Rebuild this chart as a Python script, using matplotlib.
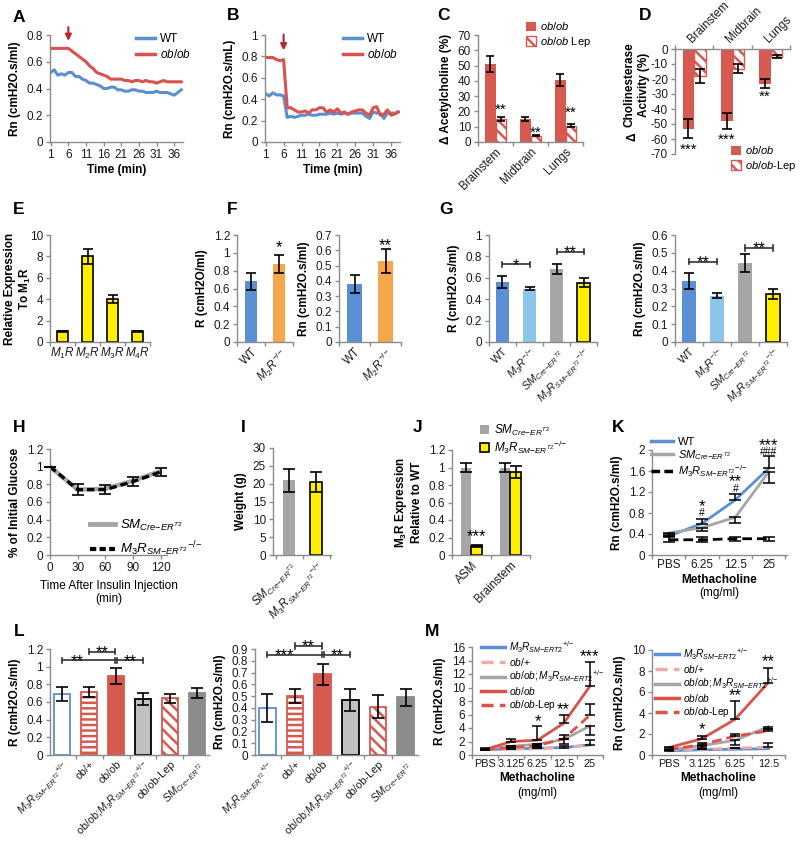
import numpy as np
import matplotlib
matplotlib.use('Agg')
import matplotlib.pyplot as plt
from matplotlib.patches import Patch
from matplotlib.lines import Line2D
from matplotlib.ticker import FuncFormatter

plt.rcParams['font.family'] = ['Liberation Sans', 'DejaVu Sans']
plt.rcParams['font.size'] = 8
plt.rcParams['mathtext.fontset'] = 'custom'
plt.rcParams['mathtext.rm'] = 'Liberation Sans'
plt.rcParams['mathtext.it'] = 'Liberation Sans:italic'
plt.rcParams['mathtext.bf'] = 'Liberation Sans:bold'
plt.rcParams['hatch.linewidth'] = 1.8
plt.rcParams['axes.unicode_minus'] = False

# ---------------- colours ----------------
BLUE = '#5b8fd3'
RED = '#d9534c'
BARRED = '#d65a50'
GRAY = '#a6a6a6'
DGRAY = '#8c8c8c'
LGRAY = '#c0c0c0'
YEL = '#ffee00'
ORANGE = '#f6a64b'
LBLUE = '#8dc5e9'
PINK = '#f3aaa3'
AXC = '#8c8c8c'
ARROW = '#b5272b'

# ---------------- data ----------------
time_min = list(range(1, 39))
A_wt = [0.52, 0.54, 0.50, 0.51, 0.50, 0.52, 0.52, 0.49, 0.49, 0.47, 0.46, 0.44, 0.44,
        0.43, 0.42, 0.40, 0.40, 0.41, 0.41, 0.39, 0.39, 0.38, 0.38, 0.39, 0.39, 0.38,
        0.38, 0.37, 0.37, 0.37, 0.38, 0.37, 0.37, 0.37, 0.36, 0.35, 0.37, 0.39]
A_ob = [0.70, 0.70, 0.70, 0.70, 0.70, 0.70, 0.68, 0.66, 0.64, 0.62, 0.60, 0.57, 0.55,
        0.52, 0.51, 0.50, 0.49, 0.47, 0.47, 0.47, 0.47, 0.46, 0.46, 0.45, 0.46, 0.46,
        0.45, 0.46, 0.45, 0.45, 0.44, 0.45, 0.46, 0.45, 0.45, 0.45, 0.45, 0.45]
B_wt = [0.45, 0.43, 0.46, 0.44, 0.44, 0.43, 0.23, 0.24, 0.23, 0.24, 0.25, 0.25, 0.26,
        0.25, 0.25, 0.26, 0.26, 0.26, 0.27, 0.26, 0.27, 0.26, 0.27, 0.26, 0.27, 0.27,
        0.27, 0.27, 0.24, 0.22, 0.28, 0.27, 0.27, 0.22, 0.27, 0.27, 0.27, 0.28]
B_ob = [0.79, 0.79, 0.79, 0.77, 0.76, 0.77, 0.32, 0.32, 0.30, 0.28, 0.28, 0.29, 0.27,
        0.30, 0.30, 0.32, 0.32, 0.28, 0.30, 0.28, 0.31, 0.27, 0.28, 0.26, 0.28, 0.29,
        0.30, 0.30, 0.27, 0.25, 0.32, 0.33, 0.25, 0.26, 0.30, 0.25, 0.26, 0.28]

regions = ['Brainstem', 'Midbrain', 'Lungs']
C_ob = [51, 15, 40.5]
C_ob_err = [5, 1.5, 4]
C_lep = [15, 4, 10.5]
C_lep_err = [1.5, 0.4, 1]
D_ob = [-53, -48, -23]
D_ob_err = [6.5, 5.5, 3]
D_lep = [-18, -13, -5]
D_lep_err = [4.5, 3, 1]

E_labels = [r'$M_1R$', r'$M_2R$', r'$M_3R$', r'$M_4R$']
E_vals = [1, 8, 4, 1]
E_err = [0.05, 0.7, 0.4, 0.05]

F_labels = ['WT', r'$M_2R^{-/{-}}$']
F_R = [0.68, 0.875]
F_R_err = [0.095, 0.10]
F_Rn = [0.38, 0.53]
F_Rn_err = [0.06, 0.08]

lab_sm = r'$SM_{Cre{-}ER^{T2}}$'
lab_m3sm = r'$M_3R_{SM{-}ER^{T2}}{}^{-/{-}}$'
G_labels = ['WT', r'$M_3R^{-/{-}}$', lab_sm, lab_m3sm]
G_R = [0.56, 0.50, 0.68, 0.555]
G_R_err = [0.055, 0.015, 0.045, 0.045]
G_Rn = [0.34, 0.26, 0.445, 0.27]
G_Rn_err = [0.045, 0.015, 0.05, 0.03]

H_t = [0, 30, 60, 90, 120]
H_sm = [1.0, 0.74, 0.75, 0.84, 0.95]
H_m3 = [1.0, 0.74, 0.74, 0.83, 0.94]
H_err = [0.0, 0.06, 0.05, 0.05, 0.04]

I_labels = [lab_sm, lab_m3sm]
I_vals = [21, 20.5]
I_err = [3.2, 2.9]

J_tissue = ['ASM', 'Brainstem']
J_sm = [1.0, 1.0]
J_sm_err = [0.05, 0.05]
J_m3 = [0.10, 0.95]
J_m3_err = [0.01, 0.07]

K_dose = ['PBS', '6.25', '12.5', '25']
K_wt = [0.36, 0.60, 1.05, 1.65]
K_wt_err = [0.04, 0.08, 0.12, 0.23]
K_sm = [0.42, 0.52, 0.72, 1.58]
K_sm_err = [0.05, 0.07, 0.11, 0.21]
K_m3 = [0.29, 0.29, 0.31, 0.31]
K_m3_err = [0.05, 0.05, 0.04, 0.04]

L_labels = [r'$M_3R_{SM{-}ER^{T2}}{}^{+/{-}}$', 'ob/+', 'ob/ob',
            r'ob/ob;$M_3R_{SM{-}ER^{T2}}{}^{+/{-}}$', 'ob/ob-Lep', r'$SM_{Cre{-}ER^{T2}}$']
L_R = [0.69, 0.715, 0.895, 0.635, 0.64, 0.70]
L_R_err = [0.08, 0.055, 0.09, 0.065, 0.05, 0.055]
L_Rn = [0.40, 0.50, 0.685, 0.465, 0.41, 0.49]
L_Rn_err = [0.12, 0.06, 0.09, 0.095, 0.10, 0.07]

M_labels = [r'$M_3R_{SM{-}ERT2}{}^{+/{-}}$', r'$ob/{+}$', r'$ob/ob;M_3R_{SM{-}ERT2}{}^{+/{-}}$',
            r'$ob/ob$', r'$ob/ob$-Lep']
M1_dose = ['PBS', '3.125', '6.25', '12.5', '25']
M1_m3 = [0.8, 0.9, 1.0, 1.1, 1.5]
M1_obp = [0.8, 0.9, 0.9, 1.2, 1.4]
M1_obm3 = [0.9, 1.3, 1.6, 2.3, 4.3]
M1_ob = [0.8, 2.0, 2.2, 4.7, 10.2]
M1_lep = [0.8, 1.1, 1.4, 2.4, 5.9]
M1_ob_up = [0.2, 0.4, 2.1, 1.3, 3.6]
M1_lep_up = [0.0, 0.0, 0.2, 0.5, 1.7]
M1_obm3_dn = [0.2, 0.0, 0.3, 0.7, 1.3]
M1_m3_up = [0.0, 0.0, 0.0, 0.3, 0.7]

M2_dose = ['PBS', '3.125', '6.25', '12.5']
M2_m3 = [0.4, 0.5, 0.55, 0.6]
M2_obp = [0.5, 0.55, 0.65, 0.75]
M2_obm3 = [0.5, 0.9, 1.4, 2.7]
M2_ob = [0.7, 1.55, 3.4, 6.9]
M2_lep = [0.5, 1.0, 1.8, 2.3]
M2_ob_up = [0.1, 0.3, 1.7, 1.4]
M2_obm3_dn = [0.1, 0.2, 0.4, 0.2]
M2_lep_up = [0.0, 0.1, 0.2, 0.2]
M2_obp_up = [0.0, 0.0, 0.0, 0.35]

# ---------------- helpers ----------------
W, H = 800, 842
fig = plt.figure(figsize=(W / 100, H / 100), dpi=100)
fig.patch.set_facecolor('white')


def axpx(l, t, r, b):
    ax = fig.add_axes([l / W, 1 - b / H, (r - l) / W, (b - t) / H])
    for s in ('top', 'right'):
        ax.spines[s].set_visible(False)
    for s in ('left', 'bottom', 'top'):
        ax.spines[s].set_color(AXC)
        ax.spines[s].set_linewidth(1.0)
    ax.tick_params(which='both', direction='out', color=AXC, width=1, length=3,
                   labelsize=8.5, pad=2, labelcolor='#1a1a1a')
    ax.yaxis.set_major_formatter(FuncFormatter(lambda v, p: f'{v:g}'))
    ax.patch.set_alpha(0)
    return ax


def cat_ticks(ax, labels, rot=45, fs=8, ha='right'):
    n = len(labels)
    ax.set_xticks(np.arange(n))
    ax.set_xticklabels(labels, rotation=rot, ha=ha if rot else 'center',
                       rotation_mode='anchor', fontsize=fs)
    ax.set_xticks(np.arange(n + 1) - 0.5, minor=True)
    ax.tick_params(axis='x', which='major', length=0, pad=3)
    ax.tick_params(axis='x', which='minor', length=3)


def letter(s, x, y):
    fig.text(x / W, 1 - y / H, s, fontsize=12.5, fontweight='bold', ha='center', va='center')


def legend_px(ax, handles, labels, x, y, fs=8, **kw):
    opts = dict(loc='upper left', bbox_to_anchor=(x / W, 1 - y / H),
                bbox_transform=fig.transFigure, frameon=False, fontsize=fs,
                borderaxespad=0, borderpad=0, handletextpad=0.4,
                labelspacing=0.25, handlelength=1.6)
    opts.update(kw)
    return ax.legend(handles, labels, **opts)


def ebar(ax, x, y, err, cap=3.5):
    ax.errorbar(x, y, yerr=err, fmt='none', ecolor='black', elinewidth=1.2,
                capsize=cap, capthick=1.2, zorder=5, clip_on=False)


def star(ax, x, y, s, fs=11):
    # y is the visual centre of the glyphs
    off = -0.57 * fs if '*' in s else -0.36 * fs
    ax.annotate(s, (x, y), xytext=(0, off), textcoords='offset points', ha='center',
                va='baseline', fontsize=fs, annotation_clip=False)


def bracket(ax, x1, x2, y, txt, h, fs=11, tx=None):
    kw = dict(color='#333333', lw=1.2, clip_on=False)
    ax.plot([x1, x2], [y, y], **kw)
    for xx in (x1, x2):
        ax.plot([xx, xx], [y - h, y + h], **kw)
    if tx is None:
        tx = (x1 + x2) / 2
    ax.annotate(txt, (tx, y), xytext=(0, 1.2 - 0.43 * fs), textcoords='offset points',
                ha='center', va='baseline', fontsize=fs, annotation_clip=False)


def methacholine(ax):
    ax.set_xlabel('Methacholine', fontweight='bold', fontsize=8.5, labelpad=2)
    ax.annotate('(mg/ml)', xy=(0.5, 0), xycoords='axes fraction', xytext=(0, -23),
                textcoords='offset points', ha='center', va='top', fontsize=8.5)


LABW = dict(fontweight='bold', fontsize=8.5)

# ---------------- A ----------------
letter('A', 19, 17)
axA = axpx(50, 35, 183, 142)
axA.plot(time_min, A_wt, color=BLUE, lw=2.2)
axA.plot(time_min, A_ob, color=RED, lw=2.2)
axA.set_xlim(0.8, 38.5)
axA.set_ylim(0, 0.8)
axA.set_xticks(range(1, 37, 5))
axA.set_yticks(np.arange(0, 0.81, 0.2))
axA.set_xlabel('Time (min)', labelpad=2, **LABW)
axA.set_ylabel('Rn (cmH2O.s/ml)', **LABW)
axA.annotate('', xy=(6, 0.735), xytext=(6, 0.88),
             arrowprops=dict(arrowstyle='-|>', color=ARROW, lw=1.5, mutation_scale=9),
             annotation_clip=False)
legend_px(axA, [Line2D([], [], color=BLUE, lw=2.5), Line2D([], [], color=RED, lw=2.5)],
          ['WT', r'$ob/ob$'], 136, 33, fs=8.5)

# ---------------- B ----------------
letter('B', 233, 15)
axB = axpx(265, 35, 400, 142)
axB.plot(time_min, B_wt, color=BLUE, lw=2.2)
axB.plot(time_min, B_ob, color=RED, lw=2.2)
axB.set_xlim(0.8, 38.5)
axB.set_ylim(0, 1)
axB.set_xticks(range(1, 37, 5))
axB.set_yticks(np.arange(0, 1.01, 0.2))
axB.set_xlabel('Time (min)', labelpad=2, **LABW)
axB.set_ylabel('Rn (cmH2O.s/mL)', **LABW)
axB.annotate('', xy=(6, 0.83), xytext=(6, 1.03),
             arrowprops=dict(arrowstyle='-|>', color=ARROW, lw=1.5, mutation_scale=9),
             annotation_clip=False)
legend_px(axB, [Line2D([], [], color=BLUE, lw=2.5), Line2D([], [], color=RED, lw=2.5)],
          ['WT', r'$ob/ob$'], 343, 33, fs=8.5)

# ---------------- C ----------------
letter('C', 443, 15)
axC = axpx(478, 35, 583, 142)
xc = np.arange(len(regions))
w = 0.29
axC.bar(xc - w / 2, C_ob, w, color=BARRED)
axC.bar(xc + w / 2, C_lep, w, facecolor='white', edgecolor=BARRED, hatch='\\\\\\', linewidth=1)
ebar(axC, xc - w / 2, C_ob, C_ob_err, cap=3)
ebar(axC, xc + w / 2, C_lep, C_lep_err, cap=3)
axC.set_ylim(0, 70)
axC.set_xlim(-0.5, 2.5)
axC.set_yticks(range(0, 71, 10))
cat_ticks(axC, regions, rot=45, fs=8.5)
axC.set_ylabel('Δ Acetylcholine (%)', **LABW)
star(axC, 0 + w / 2, 24, '**')
star(axC, 1 + w / 2, 9, '**')
star(axC, 2 + w / 2, 22.5, '**')
legend_px(axC, [Patch(facecolor=BARRED), Patch(facecolor='white', edgecolor=BARRED, hatch='\\\\\\')],
          [r'$ob/ob$', r'$ob/ob$ Lep'], 526, 20, fs=8, handlelength=0.9, handleheight=0.9)

# ---------------- D ----------------
letter('D', 645, 15)
axD = axpx(675, 49, 790, 154)
axD.spines['bottom'].set_visible(False)
axD.spines['top'].set_visible(True)
axD.xaxis.tick_top()
xd = np.arange(len(regions))
wd = 0.3
axD.bar(xd - wd / 2, D_ob, wd, color=BARRED)
axD.bar(xd + wd / 2, D_lep, wd, facecolor='white', edgecolor=BARRED, hatch='\\\\\\', linewidth=1)
ebar(axD, xd - wd / 2, D_ob, D_ob_err, cap=3.5)
ebar(axD, xd + wd / 2, D_lep, D_lep_err, cap=3.5)
axD.set_ylim(-70, 0)
axD.set_xlim(-0.5, 2.5)
axD.set_yticks(range(-70, 1, 10))
cat_ticks(axD, regions, rot=45, fs=8.5, ha='left')
axD.set_ylabel('Cholinesterase\nActivity (%)', **LABW)
axD.yaxis.set_label_coords(-0.22, 0.66)
fig.text(633 / W, 1 - 137 / H, 'Δ', rotation=90, fontsize=8.5, fontweight='bold', ha='center', va='center')
star(axD, 0 - wd / 2, -64, '***')
star(axD, 1 - wd / 2, -57.5, '***')
star(axD, 2 - wd / 2, -29, '**')
legend_px(axD, [Patch(facecolor=BARRED), Patch(facecolor='white', edgecolor=BARRED, hatch='\\\\\\')],
          [r'$ob/ob$', r'$ob/ob$-Lep'], 731, 144, fs=8, handlelength=0.9, handleheight=0.9)

# ---------------- E ----------------
letter('E', 19, 209)
axE = axpx(50, 235, 150, 342)
xe = np.arange(len(E_vals))
axE.bar(xe, E_vals, 0.42, color=YEL, edgecolor='black', linewidth=1.2)
ebar(axE, xe, E_vals, E_err, cap=3.5)
axE.set_ylim(0, 10)
axE.set_xlim(-0.5, 3.5)
axE.set_yticks(range(0, 11, 2))
cat_ticks(axE, E_labels, rot=0, fs=8.5)
axE.set_ylabel('Relative Expression\nTo ' + r'$\mathbf{M_1R}$', **LABW)
axE.yaxis.set_label_coords(-0.17, 0.5)

# ---------------- F ----------------
letter('F', 232, 209)
axF1 = axpx(237, 235, 293, 342)
xf = np.arange(2)
axF1.bar(xf, F_R, 0.45, color=[BLUE, ORANGE])
ebar(axF1, xf, F_R, F_R_err, cap=3.5)
axF1.set_ylim(0, 1.2)
axF1.set_xlim(-0.5, 1.5)
axF1.set_yticks(np.arange(0, 1.21, 0.2))
cat_ticks(axF1, F_labels, rot=45, fs=8.5)
axF1.set_ylabel('R (cmH2O/ml)', **LABW)
star(axF1, 1, 1.12, '*', fs=12)

axF2 = axpx(339, 235, 401, 342)
axF2.bar(xf, F_Rn, 0.5, color=[BLUE, ORANGE])
ebar(axF2, xf, F_Rn, F_Rn_err, cap=3.5)
axF2.set_ylim(0, 0.7)
axF2.set_xlim(-0.5, 1.5)
axF2.set_yticks(np.arange(0, 0.71, 0.1))
cat_ticks(axF2, F_labels, rot=45, fs=8.5)
axF2.set_ylabel('Rn (cmH2O.s/ml)', **LABW)
star(axF2, 1, 0.665, '**', fs=12)

# ---------------- G ----------------
letter('G', 446, 210)
G_colors = [BLUE, LBLUE, GRAY, YEL]
G_edges = ['none', 'none', 'none', 'black']
axG1 = axpx(489, 235, 597, 342)
xg = np.arange(4)
axG1.bar(xg, G_R, 0.5, color=G_colors, edgecolor=G_edges, linewidth=1.2)
ebar(axG1, xg, G_R, G_R_err, cap=3.5)
axG1.set_ylim(0, 1)
axG1.set_xlim(-0.5, 3.5)
axG1.set_yticks(np.arange(0, 1.01, 0.2))
cat_ticks(axG1, G_labels, rot=45, fs=8)
axG1.set_ylabel('R (cmH2O.s/ml)', **LABW)
bracket(axG1, 0, 1, 0.725, '*', 0.025, fs=12)
bracket(axG1, 2, 3, 0.845, '**', 0.025, fs=12)

axG2 = axpx(675, 235, 787, 342)
axG2.bar(xg, G_Rn, 0.5, color=G_colors, edgecolor=G_edges, linewidth=1.2)
ebar(axG2, xg, G_Rn, G_Rn_err, cap=3.5)
axG2.set_ylim(0, 0.6)
axG2.set_xlim(-0.5, 3.5)
axG2.set_yticks(np.arange(0, 0.61, 0.1))
cat_ticks(axG2, G_labels, rot=45, fs=8)
axG2.set_ylabel('Rn (cmH2O.s/ml)', **LABW)
bracket(axG2, 0, 1, 0.45, '**', 0.015, fs=12)
bracket(axG2, 2, 3, 0.527, '**', 0.015, fs=12)

# ---------------- H ----------------
letter('H', 19, 428)
axH = axpx(50, 449, 167, 555)
axH.plot(H_t, H_sm, color=GRAY, lw=3.2, solid_capstyle='butt')
axH.plot(H_t, H_m3, color='black', lw=2.4, ls=(0, (2.2, 1.2)))
ebar(axH, H_t, H_m3, H_err, cap=4)
axH.set_xlim(0, 127)
axH.set_ylim(0, 1.2)
axH.set_xticks(H_t)
axH.set_yticks(np.arange(0, 1.21, 0.2))
axH.set_xlabel('Time After Insulin Injection\n(min)', fontsize=8.5, labelpad=4)
axH.set_ylabel('% of Initial Glucose', **LABW)
legend_px(axH, [Line2D([], [], color=GRAY, lw=3.5),
                Line2D([], [], color='black', lw=3, ls=(0, (1.5, 0.8)))],
          [lab_sm, lab_m3sm], 90, 518, fs=9.5, labelspacing=0.5, handlelength=1.9)

# ---------------- I ----------------
letter('I', 243, 428)
axI = axpx(273, 448, 331, 555)
xi = np.arange(2)
axI.bar(xi, I_vals, 0.45, color=[GRAY, YEL], edgecolor=['none', 'black'], linewidth=1.2)
ebar(axI, xi, I_vals, I_err, cap=4)
axI.set_ylim(0, 30)
axI.set_xlim(-0.6, 1.55)
axI.set_yticks(range(0, 31, 5))
cat_ticks(axI, I_labels, rot=45, fs=8.5)
axI.set_ylabel('Weight (g)', **LABW)

# ---------------- J ----------------
letter('J', 418, 428)
axJ = axpx(452, 450, 530, 555)
xj = np.arange(2)
wj = 0.26
axJ.bar(xj - wj / 2, J_sm, wj, color=GRAY)
axJ.bar(xj + wj / 2, J_m3, wj, color=YEL, edgecolor='black', linewidth=1.2)
ebar(axJ, xj - wj / 2, J_sm, J_sm_err, cap=4)
ebar(axJ, xj + wj / 2, J_m3, J_m3_err, cap=4)
axJ.set_ylim(0, 1.2)
axJ.set_xlim(-0.43, 1.5)
axJ.set_yticks(np.arange(0, 1.21, 0.2))
cat_ticks(axJ, J_tissue, rot=45, fs=8.5)
axJ.set_ylabel(r'$\mathbf{M_3R}$ Expression' + '\nRelative to WT', **LABW)
star(axJ, 0 + wj / 2, 0.27, '***', fs=12)
legend_px(axJ, [Patch(facecolor=GRAY), Patch(facecolor=YEL, edgecolor='black', linewidth=1.2)],
          [lab_sm, lab_m3sm], 480, 423, fs=8.5, handlelength=0.8, handleheight=0.8,
          labelspacing=0.05)

# ---------------- K ----------------
letter('K', 618, 428)
axK = axpx(652, 450, 787, 555)
xk = np.arange(len(K_dose))
axK.plot(xk, K_wt, color=BLUE, lw=2)
axK.plot(xk, K_sm, color=GRAY, lw=2)
axK.plot(xk, K_m3, color='black', lw=2, ls=(0, (3.5, 1.8)))
axK.errorbar(xk, K_wt, yerr=[np.zeros(4), K_wt_err], fmt='none', ecolor='black',
             elinewidth=1.1, capsize=4, capthick=1.1)
axK.errorbar(xk, K_sm, yerr=[K_sm_err, np.zeros(4)], fmt='none', ecolor='black',
             elinewidth=1.1, capsize=4, capthick=1.1)
axK.errorbar(xk, K_m3, yerr=K_m3_err, fmt='none', ecolor='black',
             elinewidth=1.1, capsize=4, capthick=1.1)
axK.set_ylim(0, 2)
axK.set_xlim(-0.45, 3.55)
axK.set_yticks(np.arange(0, 2.01, 0.4))
cat_ticks(axK, K_dose, rot=0, fs=8.5)
axK.set_ylabel('Rn (cmH2O.s/ml)', **LABW)
methacholine(axK)
star(axK, 1, 1.01, '*', fs=12)
star(axK, 1, 0.81, '#', fs=7.5)
star(axK, 2, 1.49, '**', fs=12)
star(axK, 2, 1.28, '#', fs=7.5)
star(axK, 3, 2.17, '***', fs=12)
star(axK, 3, 1.98, '###', fs=7.5)
legend_px(axK, [Line2D([], [], color=BLUE, lw=2.5), Line2D([], [], color=GRAY, lw=2.5),
                Line2D([], [], color='black', lw=2.5, ls=(0, (2.5, 1.2)))],
          ['WT', lab_sm, lab_m3sm], 651, 437, fs=8, labelspacing=0.1, handlelength=2.0)

# ---------------- L ----------------
letter('L', 19, 632)
L_face = ['white', 'white', BARRED, LGRAY, 'white', DGRAY]
L_edge = [BLUE, BARRED, BARRED, 'black', BARRED, DGRAY]
L_hatch = [None, '---', None, None, '\\\\\\', None]


def L_bars(ax, vals, errs):
    xl = np.arange(len(vals))
    for k in range(len(vals)):
        ax.bar(xl[k], vals[k], 0.6, facecolor=L_face[k], edgecolor=L_edge[k],
               hatch=L_hatch[k], linewidth=1.3)
    ebar(ax, xl, vals, errs, cap=4)
    cat_ticks(ax, L_labels, rot=45, fs=7.8)
    ax.set_xlim(-0.45, 5.45)


axL1 = axpx(50, 649, 209, 755)
L_bars(axL1, L_R, L_R_err)
axL1.set_ylim(0, 1.2)
axL1.set_yticks(np.arange(0, 1.21, 0.2))
axL1.set_ylabel('R (cmH2O.s/ml)', **LABW)
bracket(axL1, 0, 1.96, 1.07, '**', 0.03, fs=12, tx=0.55)
bracket(axL1, 1, 1.96, 1.17, '**', 0.03, fs=12)
bracket(axL1, 2.04, 3, 1.07, '**', 0.03, fs=12)

axL2 = axpx(255, 649, 418, 755)
L_bars(axL2, L_Rn, L_Rn_err)
axL2.set_ylim(0, 0.9)
axL2.set_yticks(np.arange(0, 0.91, 0.1))
axL2.set_ylabel('Rn (cmH2O.s/ml)', **LABW)
bracket(axL2, 0, 1.96, 0.85, '***', 0.022, fs=12, tx=0.6)
bracket(axL2, 1, 1.96, 0.925, '**', 0.022, fs=12)
bracket(axL2, 2.04, 3, 0.85, '**', 0.022, fs=12)

# ---------------- M ----------------
letter('M', 432, 632)
M_styles = [dict(color=BLUE, lw=2), dict(color=PINK, lw=2, ls=(0, (3.5, 1.8))),
            dict(color=GRAY, lw=2), dict(color=RED, lw=2),
            dict(color=RED, lw=2, ls=(0, (3.5, 1.8)))]
EK = dict(fmt='none', ecolor='black', elinewidth=1.1, capsize=3.5, capthick=1.1)


def M_panel(ax, dose, series, ups, downs):
    xm = np.arange(len(dose))
    for s, st in zip(series, M_styles):
        ax.plot(xm, s, **st)
    z = np.zeros(len(dose))
    for s, u, d in zip(series, ups, downs):
        if u is not None or d is not None:
            ax.errorbar(xm, s, yerr=[d if d is not None else z, u if u is not None else z], **EK)
    cat_ticks(ax, dose, rot=0, fs=7.8)
    ax.set_xlim(-0.5, len(dose) - 0.5)
    methacholine(ax)
    handles = [Line2D([], [], **{**st, 'lw': 2.5}) for st in M_styles]
    return handles


axM1 = axpx(472, 647, 603, 755)
hM = M_panel(axM1, M1_dose, [M1_m3, M1_obp, M1_obm3, M1_ob, M1_lep],
             [M1_m3_up, None, None, M1_ob_up, M1_lep_up],
             [None, None, M1_obm3_dn, None, None])
axM1.set_ylim(0, 16)
axM1.set_yticks(range(0, 17, 2))
axM1.set_ylabel('R (cmH2O.s/ml)', **LABW)
star(axM1, 2, 5.7, '*', fs=12)
star(axM1, 3, 7.5, '**', fs=12)
star(axM1, 4, 15.3, '***', fs=12)
legend_px(axM1, hM, M_labels, 481, 639, fs=7.3, labelspacing=0.1, handlelength=2.4)

axM2 = axpx(652, 650, 785, 755)
hM2 = M_panel(axM2, M2_dose, [M2_m3, M2_obp, M2_obm3, M2_ob, M2_lep],
              [None, M2_obp_up, None, M2_ob_up, M2_lep_up],
              [None, None, M2_obm3_dn, None, None])
axM2.set_ylim(0, 10)
axM2.set_yticks(range(0, 11, 2))
axM2.set_ylabel('Rn (cmH2O.s/ml)', **LABW)
star(axM2, 1, 2.85, '*', fs=12)
star(axM2, 2, 6.1, '**', fs=12)
star(axM2, 3, 9.4, '**', fs=12)
legend_px(axM2, hM2, M_labels, 655, 646, fs=7.3, labelspacing=0.1, handlelength=2.4)

fig.savefig('out.png', dpi=100, facecolor='white')
